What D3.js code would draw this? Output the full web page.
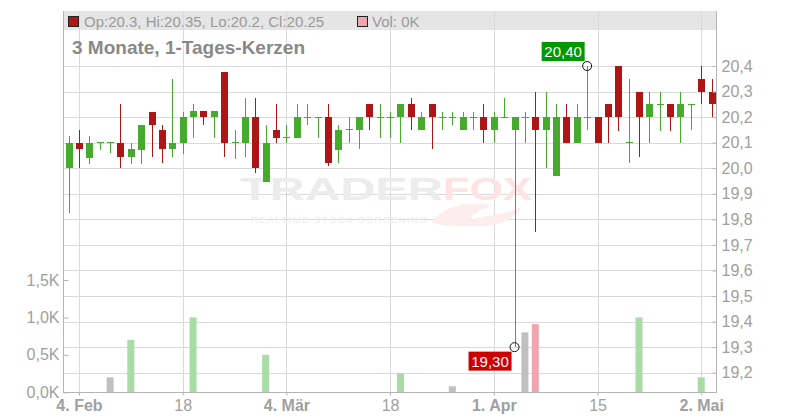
<!DOCTYPE html>
<html><head><meta charset="utf-8">
<script src="https://cdn.jsdelivr.net/npm/d3@7/dist/d3.min.js"></script>
<style>
html,body{margin:0;padding:0;background:#fff;}
svg{display:block;font-family:"Liberation Sans",Arial,sans-serif;}
</style></head>
<body><svg id="c" width="800" height="420"></svg>
<script>
const dates = [
"2025-02-03","2025-02-04","2025-02-05","2025-02-06","2025-02-07","2025-02-10","2025-02-11","2025-02-12","2025-02-13","2025-02-14",
"2025-02-17","2025-02-18","2025-02-19","2025-02-20","2025-02-21","2025-02-24","2025-02-25","2025-02-26","2025-02-27","2025-02-28",
"2025-03-03","2025-03-04","2025-03-05","2025-03-06","2025-03-07","2025-03-10","2025-03-11","2025-03-12","2025-03-13","2025-03-14",
"2025-03-17","2025-03-18","2025-03-19","2025-03-20","2025-03-21","2025-03-24","2025-03-25","2025-03-26","2025-03-27","2025-03-28",
"2025-03-31","2025-04-01","2025-04-02","2025-04-03","2025-04-04","2025-04-07","2025-04-08","2025-04-09","2025-04-10","2025-04-11",
"2025-04-14","2025-04-15","2025-04-16","2025-04-17","2025-04-22","2025-04-23","2025-04-24","2025-04-25","2025-04-28","2025-04-29",
"2025-04-30","2025-05-02","2025-05-05"];
const opens = [20.0,20.1,20.04,20.1,20.1,20.1,20.045,20.07,20.22,20.15,
20.075,20.1,20.2,20.225,20.2,20.375,20.1,20.1,20.2,19.946,
20.15,20.12,20.12,20.2,20.2,20.2,20.07,20.15,20.15,20.25,
20.2,20.2,20.2,20.25,20.15,20.25,20.2,20.2,20.15,20.2,
20.2,20.15,20.2,20.15,20.2,20.2,20.15,19.97,20.2,20.1,
20.2,20.2,20.25,20.4,20.1,20.3,20.2,20.25,20.25,20.2,
20.25,20.35,20.3];
const highs = [20.125,20.15,20.125,20.1,20.1,20.25,20.1,20.17,20.22,20.17,
20.35,20.22,20.25,20.225,20.225,20.375,20.15,20.275,20.275,20.17,
20.25,20.17,20.25,20.25,20.2,20.25,20.17,20.2,20.2,20.25,
20.25,20.22,20.25,20.275,20.22,20.25,20.22,20.22,20.22,20.22,
20.25,20.22,20.275,20.2,20.22,20.3,20.3,20.25,20.25,20.25,
20.4,20.2,20.25,20.4,20.35,20.3,20.3,20.3,20.25,20.3,
20.25,20.4,20.35];
const lows = [19.825,20.0,20.015,20.07,20.06,20.0,20.015,20.015,20.045,20.02,
20.045,20.055,20.12,20.17,20.12,20.045,20.035,20.045,19.98,19.946,
20.1,20.1,20.12,20.17,20.12,20.01,20.02,20.1,20.075,20.15,
20.12,20.12,20.1,20.15,20.15,20.075,20.15,20.17,20.15,20.15,
20.1,20.1,20.2,19.3,20.1,19.75,20.0,19.97,20.1,20.1,
20.15,20.1,20.1,20.145,20.02,20.045,20.1,20.145,20.145,20.1,
20.15,20.25,20.2];
const closes = [20.1,20.075,20.1,20.1,20.1,20.045,20.075,20.17,20.17,20.075,
20.1,20.2,20.225,20.2,20.225,20.1,20.1,20.2,20.0,20.1,
20.12,20.12,20.2,20.2,20.2,20.02,20.15,20.15,20.2,20.2,
20.2,20.2,20.25,20.2,20.2,20.2,20.2,20.2,20.2,20.2,
20.15,20.2,20.2,20.2,20.2,20.15,20.2,20.2,20.1,20.2,
20.2,20.1,20.2,20.2,20.1,20.2,20.25,20.25,20.2,20.25,
20.25,20.3,20.25];
const volumes = [0,0,0,0,0.2,0,0.7,0,0,0,
0,0,1.0,0,0,0,0,0,0,0.5,
0,0,0,0,0,0,0,0,0,0,
0,0,0.25,0,0,0,0,0.08,0,0,
0,0,0,0,0.8,0.91,0,0,0,0,
0,0,0,0,0,1.0,0,0,0,0,
0,0.2,0];
const tickDates = ["2025-02-04","2025-02-18","2025-03-04","2025-03-18","2025-04-01","2025-04-15","2025-05-02"];
const tickLabels = ["4. Feb","18","4. Mär","18","1. Apr","15","2. Mai"];
const tickBold = [true,false,true,false,true,false,true];
const priceTicks = [19.2,19.3,19.4,19.5,19.6,19.7,19.8,19.9,20.0,20.1,20.2,20.3,20.4];
const volTicks = [0,0.5,1.0,1.5];
const title = "3 Monate, 1-Tages-Kerzen";

const svg = d3.select("#c");
const L = 63, R = 716, T = 11, B = 392;
const x = d3.scalePoint().domain(dates).range([68.6, 711.6]);
const y = d3.scaleLinear().domain([19.2, 20.4]).range([372.7, 66]);
const v = d3.scaleLinear().domain([0, 1.5]).range([392.3, 280]);

const GREEN = "#45ab2c", RED = "#b01515";
const GRID = "#dadada", AXIS = "#b4b4b4", TXT = "#a0a0a0";

// legend band
svg.append("rect").attr("x", L).attr("y", T).attr("width", R - L).attr("height", 19).attr("fill", "#e5e5e5");

// gridlines
svg.append("g").selectAll("line").data(priceTicks).join("line")
  .attr("x1", L).attr("x2", R).attr("y1", d => Math.round(y(d)) + 0.5).attr("y2", d => Math.round(y(d)) + 0.5)
  .attr("stroke", GRID);
svg.append("g").selectAll("line").data(tickDates).join("line")
  .attr("x1", d => Math.round(x(d)) + 0.5).attr("x2", d => Math.round(x(d)) + 0.5).attr("y1", T).attr("y2", B)
  .attr("stroke", GRID);

// watermark
const wm = svg.append("g");
wm.append("text").attr("x", 240).attr("y", 200).attr("textLength", 203).attr("lengthAdjust", "spacingAndGlyphs")
  .attr("font-size", 32).attr("font-weight", "bold").attr("fill", "#ececec").text("TRADER");
wm.append("text").attr("x", 443).attr("y", 200).attr("textLength", 89).attr("lengthAdjust", "spacingAndGlyphs")
  .attr("font-size", 32).attr("font-weight", "bold").attr("fill", "#fde3e3").text("FOX");
wm.append("path").attr("d", "M432,222 C445,205 470,200 492,206 C480,209 472,214 470,220 C490,214 510,214 522,206 C515,220 495,228 470,226 C455,226 442,226 432,222 Z")
  .attr("fill", "#fdeded");
wm.append("text").attr("x", 251).attr("y", 223).attr("textLength", 176).attr("lengthAdjust", "spacing")
  .attr("font-size", 9.5).attr("fill", "#ececec").text("REALTIME STOCK SCREENING");

// volume bars
const volColor = i => {
  if (i === 0) return "#c0c0c0";
  if (closes[i] > closes[i - 1]) return "#a9dba5";
  if (closes[i] < closes[i - 1]) return "#f0a6ae";
  return "#c0c0c0";
};
svg.append("g").selectAll("rect").data(dates.map((d, i) => i).filter(i => volumes[i] > 0)).join("rect")
  .attr("x", i => x(dates[i]) - 3.5).attr("width", 7)
  .attr("y", i => v(volumes[i])).attr("height", i => v(0) - v(volumes[i]))
  .attr("fill", volColor);

// candles
const cg = svg.append("g").attr("shape-rendering", "crispEdges");
dates.forEach((d, i) => {
  const col = closes[i] < opens[i] ? RED : GREEN;
  const cx = Math.round(x(d)) + 0.5;
  cg.append("line").attr("x1", cx).attr("x2", cx).attr("y1", y(highs[i])).attr("y2", y(lows[i]))
    .attr("stroke", col).attr("stroke-width", 1);
  const top = y(Math.max(opens[i], closes[i])), bot = y(Math.min(opens[i], closes[i]));
  if (bot - top < 1) {
    cg.append("line").attr("x1", cx - 3.5).attr("x2", cx + 3.5).attr("y1", top).attr("y2", top)
      .attr("stroke", col).attr("stroke-width", 1);
  } else {
    cg.append("rect").attr("x", cx - 3.5).attr("width", 7).attr("y", top).attr("height", bot - top).attr("fill", col);
  }
});

// frame
svg.append("line").attr("x1", L + 0.5).attr("x2", L + 0.5).attr("y1", T).attr("y2", B + 0.5).attr("stroke", AXIS);
svg.append("line").attr("x1", R + 0.5).attr("x2", R + 0.5).attr("y1", T).attr("y2", B + 0.5).attr("stroke", AXIS);
svg.append("line").attr("x1", L).attr("x2", R + 1).attr("y1", B + 0.5).attr("y2", B + 0.5).attr("stroke", AXIS);

// axes
const fmtP = d => d3.format(".1f")(d).replace(".", ",");
const ya = svg.append("g").attr("transform", `translate(${R + 0.5},0)`)
  .call(d3.axisRight(y).tickValues(priceTicks).tickFormat(fmtP).tickSizeInner(-4).tickSizeOuter(0).tickPadding(5));
ya.select(".domain").remove();
ya.selectAll("line").attr("stroke", AXIS);
ya.selectAll("text").attr("fill", TXT).attr("font-size", 16).attr("font-family", "Liberation Sans, Arial, sans-serif");

const va = svg.append("g").attr("transform", `translate(${L + 0.5},0)`)
  .call(d3.axisLeft(v).tickValues(volTicks).tickFormat(d => d3.format(".1f")(d).replace(".", ",") + "K")
    .tickSizeInner(-5).tickSizeOuter(0).tickPadding(4));
va.select(".domain").remove();
va.selectAll("line").attr("stroke", AXIS);
va.selectAll("text").attr("fill", TXT).attr("font-size", 16).attr("font-family", "Liberation Sans, Arial, sans-serif");

const xa = svg.append("g").attr("transform", `translate(0,${B + 0.5})`)
  .call(d3.axisBottom(x).tickValues(tickDates).tickFormat((d, i) => tickLabels[i]).tickSizeInner(3).tickSizeOuter(0).tickPadding(4));
xa.select(".domain").remove();
xa.selectAll("line").attr("stroke", AXIS);
xa.selectAll("text").attr("fill", TXT).attr("font-size", 16).attr("font-family", "Liberation Sans, Arial, sans-serif")
  .attr("font-weight", (d, i) => tickBold[i] ? "bold" : "normal");

// max/min annotations
const iMax = d3.maxIndex(highs), iMin = d3.minIndex(lows);
const fmt2 = d => d3.format(".2f")(d).replace(".", ",");
{
  const px = x(dates[iMax]), py = y(highs[iMax]);
  svg.append("rect").attr("x", px - 45.5).attr("y", py - 24).attr("width", 43).attr("height", 19).attr("fill", "#009a00");
  svg.append("text").attr("x", px - 24).attr("y", py - 9).attr("text-anchor", "middle").attr("fill", "#fff")
    .attr("font-size", 15).text(fmt2(highs[iMax]));
  svg.append("circle").attr("cx", px).attr("cy", py).attr("r", 4.5).attr("fill", "none").attr("stroke", "#111");
}
{
  const px = x(dates[iMin]), py = y(lows[iMin]);
  svg.append("rect").attr("x", px - 46).attr("y", py + 4.5).attr("width", 43).attr("height", 19).attr("fill", "#cc0000");
  svg.append("text").attr("x", px - 24.5).attr("y", py + 19.5).attr("text-anchor", "middle").attr("fill", "#fff")
    .attr("font-size", 15).text(fmt2(lows[iMin]));
  svg.append("circle").attr("cx", px).attr("cy", py).attr("r", 4.5).attr("fill", "none").attr("stroke", "#111");
}

// legend
const last = dates.length - 1;
svg.append("rect").attr("x", 68.5).attr("y", 16.5).attr("width", 10).attr("height", 10).attr("fill", RED).attr("stroke", "#222");
svg.append("text").attr("x", 84).attr("y", 26.5).attr("font-size", 15).attr("fill", "#9a9a9a")
  .text(`Op:${opens[last]}, Hi:${highs[last]}, Lo:${lows[last]}, Cl:${closes[last]}`);
svg.append("rect").attr("x", 357.5).attr("y", 16.5).attr("width", 10).attr("height", 10).attr("fill", "#f0a6ae").attr("stroke", "#222");
svg.append("text").attr("x", 372).attr("y", 26.5).attr("font-size", 15).attr("fill", "#9a9a9a")
  .text(`Vol: ${volumes[last]}K`);

// title
svg.append("text").attr("x", 72).attr("y", 54).attr("font-size", 19).attr("font-weight", "bold").attr("fill", "#888")
  .text(title);
</script></body></html>
